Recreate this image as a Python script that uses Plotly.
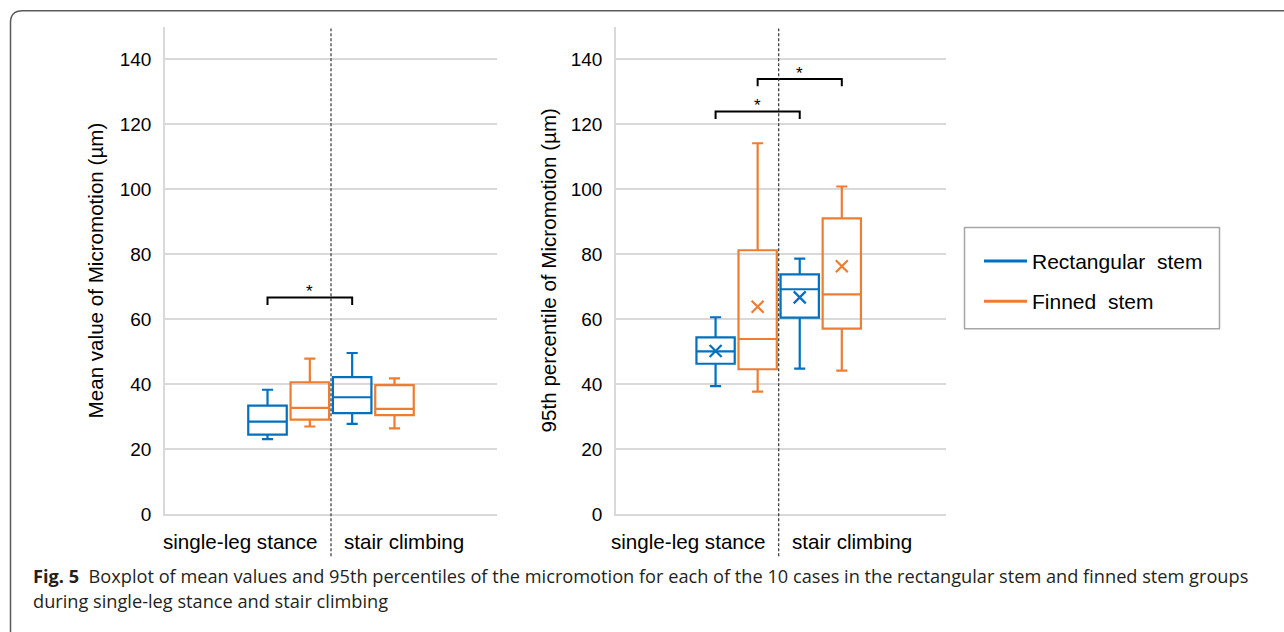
import plotly.graph_objects as go

W, H = 1284, 632

# ---------------- data ----------------
categories = ["single-leg stance", "stair climbing"]
groups = ["Rectangular  stem", "Finned  stem"]
colors = ["#0070C0", "#ED7D31"]
y_ticks = [0, 20, 40, 60, 80, 100, 120, 140]

# Panel 1: mean value of micromotion (µm)
mean_rect_lower = [23.1, 27.8]
mean_rect_q1 = [24.5, 31.1]
mean_rect_median = [28.5, 36.0]
mean_rect_q3 = [33.4, 42.2]
mean_rect_upper = [38.3, 49.6]

mean_fin_lower = [27.0, 26.4]
mean_fin_q1 = [29.1, 30.5]
mean_fin_median = [32.7, 32.4]
mean_fin_q3 = [40.6, 39.7]
mean_fin_upper = [47.9, 41.8]

# Panel 2: 95th percentile of micromotion (µm)
p95_rect_lower = [39.4, 44.8]
p95_rect_q1 = [46.3, 60.5]
p95_rect_median = [50.1, 69.2]
p95_rect_q3 = [54.4, 73.8]
p95_rect_upper = [60.6, 78.6]
p95_rect_mean = [50.2, 66.7]

p95_fin_lower = [37.7, 44.2]
p95_fin_q1 = [44.6, 57.1]
p95_fin_median = [53.9, 67.6]
p95_fin_q3 = [81.2, 91.0]
p95_fin_upper = [114.1, 100.8]
p95_fin_mean = [63.8, 76.3]

# significance brackets: (group index, bracket height)
sig_mean = [(0, 66.7)]
sig_p95 = [(0, 123.9), (1, 133.9)]

y_titles = ["Mean value of Micromotion (µm)", "95th percentile of Micromotion (µm)"]
caption_1 = ("<b>Fig. 5</b>  Boxplot of mean values and 95th percentiles of the micromotion for each "
             "of the 10 cases in the rectangular stem and finned stem groups")
caption_2 = "during single-leg stance and stair climbing"

# ---------------- geometry ----------------
FONT = "Liberation Sans, Arial, sans-serif"
cat_center = [1.49, 2.51]
grp_offset = [-0.255, 0.255]
box_w = 0.464
divider = 2.0

def px_x(p):
    return p / W

def px_y(p):
    return 1 - p / H

panels = [
    dict(xa="x", ya="y", x0=165, x1=497, xr=[0, 4]),
    dict(xa="x2", ya="y2", x0=616, x1=946, xr=[0.028, 4.028]),
]
y_top, y_bot = 27, 523.4

fig = go.Figure()

stats = [
    [  # panel 1
        dict(lower=mean_rect_lower, q1=mean_rect_q1, med=mean_rect_median, q3=mean_rect_q3, upper=mean_rect_upper, mean=None),
        dict(lower=mean_fin_lower, q1=mean_fin_q1, med=mean_fin_median, q3=mean_fin_q3, upper=mean_fin_upper, mean=None),
    ],
    [  # panel 2
        dict(lower=p95_rect_lower, q1=p95_rect_q1, med=p95_rect_median, q3=p95_rect_q3, upper=p95_rect_upper, mean=p95_rect_mean),
        dict(lower=p95_fin_lower, q1=p95_fin_q1, med=p95_fin_median, q3=p95_fin_q3, upper=p95_fin_upper, mean=p95_fin_mean),
    ],
]

def pos(ci, gi):
    return cat_center[ci] + grp_offset[gi]

for pi, pan in enumerate(panels):
    for gi, s in enumerate(stats[pi]):
        xs = [pos(ci, gi) for ci in range(len(categories))]
        fig.add_trace(go.Box(
            x=xs, q1=s["q1"], median=s["med"], q3=s["q3"],
            lowerfence=s["lower"], upperfence=s["upper"],
            width=box_w, whiskerwidth=0.29,
            line=dict(color=colors[gi], width=2.2),
            fillcolor="rgba(255,255,255,0)",
            boxpoints=False, showlegend=False, hoverinfo="skip",
            xaxis=pan["xa"], yaxis=pan["ya"],
        ))
        if s["mean"] is not None:
            fig.add_trace(go.Scatter(
                x=xs, y=s["mean"], mode="markers",
                marker=dict(symbol="x-thin", size=12, line=dict(color=colors[gi], width=2.2)),
                showlegend=False, hoverinfo="skip",
                xaxis=pan["xa"], yaxis=pan["ya"],
            ))

# legend entries
for gi, g in enumerate(groups):
    fig.add_trace(go.Scatter(
        x=[None], y=[None], mode="lines", name=g, legendgroup=str(gi),
        line=dict(color=colors[gi], width=3),
    ))

shapes = []
annotations = []

# brackets
for pi, sig in enumerate([sig_mean, sig_p95]):
    pan = panels[pi]
    for gi, h in sig:
        xa_, xb_ = pos(0, gi), pos(1, gi)
        drop = 2.3
        shapes.append(dict(
            type="path", xref=pan["xa"], yref=pan["ya"],
            path=f"M{xa_},{h - drop} L{xa_},{h} L{xb_},{h} L{xb_},{h - drop}",
            line=dict(color="black", width=2),
        ))
        annotations.append(dict(
            x=(xa_ + xb_) / 2, y=h, xref=pan["xa"], yref=pan["ya"],
            text="*", showarrow=False, yanchor="bottom", yshift=-6,
            font=dict(family=FONT, size=17, color="black"),
        ))

# dividers and category labels
for pi, pan in enumerate(panels):
    shapes.append(dict(
        type="line", xref=pan["xa"], yref="paper",
        x0=divider, x1=divider, y0=px_y(566), y1=px_y(29),
        line=dict(color="#333333", width=1.2, dash="3px,2px"), layer="above",
    ))
    annotations.append(dict(
        x=divider, y=px_y(551), xref=pan["xa"], yref="paper", text=categories[0],
        showarrow=False, xanchor="right", yanchor="middle", xshift=-11,
        font=dict(family=FONT, size=20.6, color="black"),
    ))
    annotations.append(dict(
        x=divider, y=px_y(551), xref=pan["xa"], yref="paper", text=categories[1],
        showarrow=False, xanchor="left", yanchor="middle", xshift=11,
        font=dict(family=FONT, size=20.6, color="black"),
    ))

# y titles
for pi, xc in enumerate([95, 548]):
    annotations.append(dict(
        x=px_x(xc), y=px_y((y_top + y_bot) / 2), xref="paper", yref="paper",
        text=y_titles[pi], textangle=-90, showarrow=False,
        xanchor="center", yanchor="middle",
        font=dict(family=FONT, size=20.6, color="black"),
    ))

# legend frame
shapes.append(dict(
    type="rect", xref="paper", yref="paper",
    x0=px_x(964.5), x1=px_x(1219.5), y0=px_y(334.5), y1=px_y(231.5),
    line=dict(color="#a6a6a6", width=1.5), fillcolor="rgba(0,0,0,0)",
))

# outer rounded frame
r = 12
fx, fy = 10.5, 11
path = (f"M{px_x(fx)},{px_y(H + 20)} L{px_x(fx)},{px_y(fy + r)} "
        f"Q{px_x(fx)},{px_y(fy)} {px_x(fx + r)},{px_y(fy)} L{px_x(W + 5)},{px_y(fy)}")
shapes.append(dict(type="path", xref="paper", yref="paper", path=path,
                   line=dict(color="#5a5a5a", width=1.5)))

# caption
annotations.append(dict(
    x=px_x(31), y=px_y(586), xref="paper", yref="paper", text=caption_1,
    showarrow=False, xanchor="left", yanchor="middle",
    font=dict(family="Open Sans, sans-serif", size=18.2, color="#231f20"),
))
annotations.append(dict(
    x=px_x(31), y=px_y(612), xref="paper", yref="paper", text=caption_2,
    showarrow=False, xanchor="left", yanchor="middle",
    font=dict(family="Open Sans, sans-serif", size=18.2, color="#231f20"),
))

axis_common_y = dict(
    range=[0, 150], tickvals=y_ticks, showgrid=True, gridcolor="#d9d9d9", gridwidth=1.5,
    zeroline=False, showline=True, linecolor="#d9d9d9", linewidth=1.5,
    ticks="", ticklabelstandoff=8,
    tickfont=dict(family=FONT, size=19, color="black"),
    domain=[px_y(y_bot), px_y(y_top)], fixedrange=True,
)
layout_axes = {}
for pi, pan in enumerate(panels):
    xk = "xaxis" if pi == 0 else "xaxis2"
    yk = "yaxis" if pi == 0 else "yaxis2"
    layout_axes[xk] = dict(
        range=pan["xr"], domain=[px_x(pan["x0"]), px_x(pan["x1"])],
        showgrid=False, zeroline=False, showticklabels=False, ticks="",
        showline=True, linecolor="#d9d9d9", linewidth=1.5,
        anchor="y" if pi == 0 else "y2", fixedrange=True,
    )
    layout_axes[yk] = dict(axis_common_y, anchor="x" if pi == 0 else "x2")

fig.update_layout(
    width=W, height=H, autosize=False,
    margin=dict(l=0, r=0, t=0, b=0, pad=0),
    paper_bgcolor="white", plot_bgcolor="white",
    showlegend=True,
    legend=dict(
        x=px_x(979), y=px_y(245), xanchor="left", yanchor="top",
        bgcolor="rgba(0,0,0,0)", borderwidth=0,
        font=dict(family=FONT, size=21, color="black"),
        traceorder="grouped", tracegroupgap=10, itemwidth=43,
    ),
    shapes=shapes, annotations=annotations,
    **layout_axes,
)

fig.write_html(
    "out.html",
    config={"displayModeBar": False, "responsive": False},
    post_script="document.body.style.margin='0';document.body.style.overflow='hidden';",
)
